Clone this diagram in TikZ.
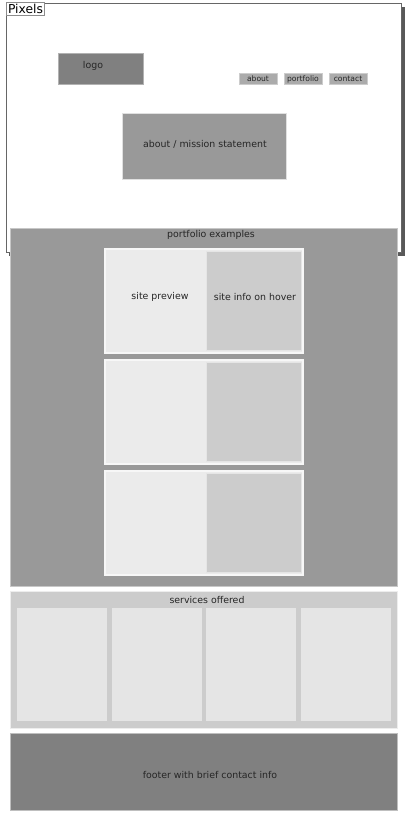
\documentclass[tikz,border=0pt]{standalone}
\usepackage{fontspec}
\setmainfont{DejaVu Sans}
\begin{document}
\begin{tikzpicture}[x=1pt,y=-1pt,
  blk/.style={anchor=north west,inner sep=0pt,outer sep=0pt,line width=0.8pt},
  lbl/.style={inner sep=0pt,text=black!85,font=\fontsize{9.4}{10}\selectfont},
  navlbl/.style={inner sep=0pt,text=black!85,font=\fontsize{7.6}{8}\selectfont}]
\useasboundingbox[fill=white] (0,0) rectangle (409,816);
% page frame with drop shadow
\fill[black!65] (9,7) rectangle (404.5,255.5);
\node[blk,draw=black!60,fill=white,line width=1pt,minimum width=395pt,minimum height=248pt] (page) at (6,4) {};
\node[blk,draw=black!45,fill=white,minimum width=38pt,minimum height=12.5pt] (tag) at (6.5,2.5) {};
\node[inner sep=0pt,font=\fontsize{12.3}{13}\selectfont] (tagtxt) at ([yshift=-0.3pt]tag.center) {Pixels};
% header
\node[blk,draw=black!30,fill=black!50,minimum width=85pt,minimum height=31pt] (logo) at (58,53) {};
\node[lbl] (logotxt) at (93,66) {logo};
\node[blk,draw=black!20,fill=black!33,minimum width=38pt,minimum height=11pt] (about) at (239,73) {};
\node[navlbl] at ([yshift=-0.5pt]about.center) {about};
\node[blk,draw=black!20,fill=black!33,minimum width=38pt,minimum height=11pt] (portfolio) at (284,73) {};
\node[navlbl] at ([yshift=-0.5pt]portfolio.center) {portfolio};
\node[blk,draw=black!20,fill=black!33,minimum width=38pt,minimum height=11pt] (contact) at (329,73) {};
\node[navlbl] at ([yshift=-0.5pt]contact.center) {contact};
\node[blk,draw=black!12,fill=black!40,minimum width=164pt,minimum height=66pt] (mission) at (122,113) {};
\node[lbl] at (205,144.5) {about / mission statement};
% portfolio section
\node[blk,draw=black!22,fill=black!40,minimum width=387pt,minimum height=358pt] (pf) at (10.5,228) {};
\node[lbl] at (211,234.5) {portfolio examples};
\foreach \i/\y in {1/249,2/360,3/471}{
  \node[blk,draw=black!3,line width=1.4pt,fill=black!8,minimum width=198pt,minimum height=104pt] (card\i) at (105,\y) {};
  \node[blk,draw=black!10,fill=black!20,minimum width=95pt,minimum height=99pt] (info\i) at (206,\y+2.5) {};
}
\node[lbl] at (160,297) {site preview};
\node[lbl] at (255,297) {site info on hover};
% services section
\node[blk,draw=black!7,fill=black!20,minimum width=387pt,minimum height=137pt] (sv) at (10.5,591) {};
\node[lbl] at (207,599.5) {services offered};
\foreach \i/\x in {1/17,2/111.7,3/206.3,4/301}{
  \node[blk,fill=black!10,minimum width=90pt,minimum height=113pt] (svc\i) at (\x,608) {};
}
% footer
\node[blk,draw=black!25,fill=black!50,minimum width=387pt,minimum height=77pt] (footer) at (10.5,733) {};
\node[lbl] at (210,775) {footer with brief contact info};
\end{tikzpicture}
\end{document}
